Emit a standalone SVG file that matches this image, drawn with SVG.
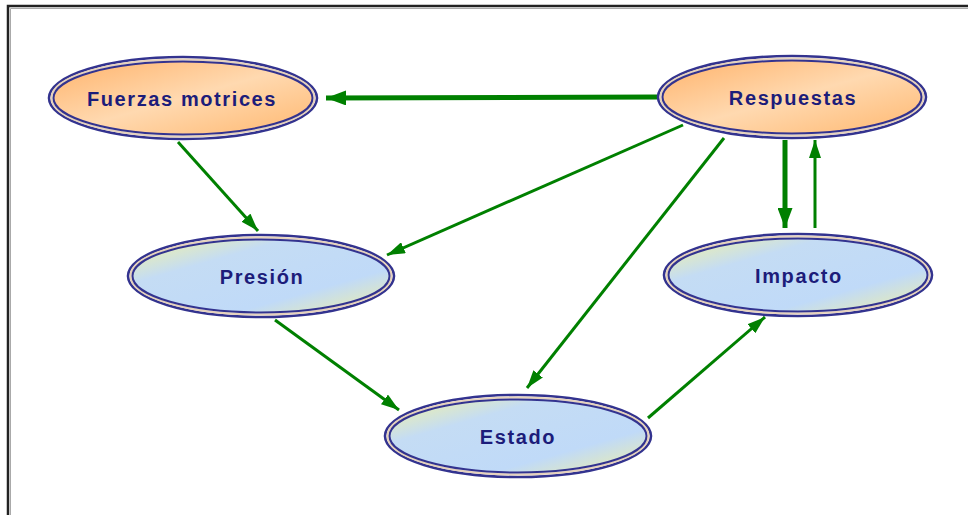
<svg xmlns="http://www.w3.org/2000/svg" width="968" height="515" viewBox="0 0 968 515">
<defs>
<linearGradient id="gOr" x1="0" y1="0" x2="1" y2="1">
<stop offset="0" stop-color="#ffb36b"/>
<stop offset="0.5" stop-color="#ffd9b0"/>
<stop offset="1" stop-color="#ffb870"/>
</linearGradient>
<linearGradient id="gBl" x1="0" y1="0" x2="1" y2="1">
<stop offset="0" stop-color="#f4f4a0"/>
<stop offset="0.3" stop-color="#c4dcf4"/>
<stop offset="0.7" stop-color="#c0daf8"/>
<stop offset="1" stop-color="#f0f0a4"/>
</linearGradient>
<marker id="ahT" viewBox="0 0 10 10" preserveAspectRatio="none" refX="10" refY="5" markerWidth="20" markerHeight="15" markerUnits="userSpaceOnUse" orient="auto">
<path d="M0,0 L10,5 L0,10 z" fill="#008000"/>
</marker>
<marker id="ahS" viewBox="0 0 10 10" preserveAspectRatio="none" refX="10" refY="5" markerWidth="18" markerHeight="12" markerUnits="userSpaceOnUse" orient="auto">
<path d="M0,0 L10,5 L0,10 z" fill="#008000"/>
</marker>
</defs>
<style>
.outer{fill:none;stroke:#33338f;stroke-width:2.6}
.gap{fill:none;stroke:#e6d2bc;stroke-width:2}
.inner{stroke:#33338f;stroke-width:2}
.lbl{font-family:"Liberation Sans",Arial,sans-serif;font-weight:bold;font-size:20px;letter-spacing:1.6px;fill:#1c1c7a;text-anchor:middle}
.c{fill:none;stroke:#008000;stroke-width:3}
.ct{fill:none;stroke:#008000;stroke-width:5}
</style>
<rect x="0" y="0" width="968" height="515" fill="#ffffff"/>
<path d="M8,515 L8,6 L968,6" fill="none" stroke="#222" stroke-width="2.5"/>
<path d="M10.5,515 L10.5,8.5 L968,8.5" fill="none" stroke="#aaa" stroke-width="1"/>

<g id="connectors">
<line class="ct" x1="657" y1="97" x2="326" y2="98" marker-end="url(#ahT)"/>
<line class="c" x1="178" y1="142" x2="258" y2="231" marker-end="url(#ahS)"/>
<line class="c" x1="683" y1="125" x2="387" y2="255" marker-end="url(#ahS)"/>
<line class="c" x1="724" y1="138" x2="527" y2="388" marker-end="url(#ahS)"/>
<line class="c" x1="275" y1="320" x2="399" y2="410" marker-end="url(#ahS)"/>
<line class="c" x1="648" y1="418" x2="765" y2="317" marker-end="url(#ahS)"/>
<line class="ct" x1="785" y1="140" x2="785" y2="228" marker-end="url(#ahT)"/>
<line class="c" x1="815" y1="228" x2="815" y2="140" marker-end="url(#ahS)"/>
</g>

<g id="fuerzas">
<ellipse cx="183" cy="98" rx="134" ry="41" class="outer"/>
<ellipse cx="183" cy="98" rx="131.5" ry="38.5" class="gap"/>
<ellipse cx="183" cy="98" rx="129.5" ry="36.5" class="inner" fill="url(#gOr)"/>
<text x="182" y="106" class="lbl">Fuerzas motrices</text>
</g>
<g id="respuestas">
<ellipse cx="792" cy="97" rx="134" ry="41" class="outer"/>
<ellipse cx="792" cy="97" rx="131.5" ry="38.5" class="gap"/>
<ellipse cx="792" cy="97" rx="129.5" ry="36.5" class="inner" fill="url(#gOr)"/>
<text x="793" y="105" class="lbl">Respuestas</text>
</g>
<g id="presion">
<ellipse cx="261" cy="276" rx="133" ry="41" class="outer"/>
<ellipse cx="261" cy="276" rx="130.5" ry="38.5" class="gap"/>
<ellipse cx="261" cy="276" rx="128.5" ry="36.5" class="inner" fill="url(#gBl)"/>
<text x="262" y="284" class="lbl">Presión</text>
</g>
<g id="impacto">
<ellipse cx="798" cy="275" rx="134" ry="41" class="outer"/>
<ellipse cx="798" cy="275" rx="131.5" ry="38.5" class="gap"/>
<ellipse cx="798" cy="275" rx="129.5" ry="36.5" class="inner" fill="url(#gBl)"/>
<text x="799" y="283" class="lbl">Impacto</text>
</g>
<g id="estado">
<ellipse cx="518" cy="436" rx="133" ry="41" class="outer"/>
<ellipse cx="518" cy="436" rx="130.5" ry="38.5" class="gap"/>
<ellipse cx="518" cy="436" rx="128.5" ry="36.5" class="inner" fill="url(#gBl)"/>
<text x="518" y="444" class="lbl">Estado</text>
</g>
</svg>
